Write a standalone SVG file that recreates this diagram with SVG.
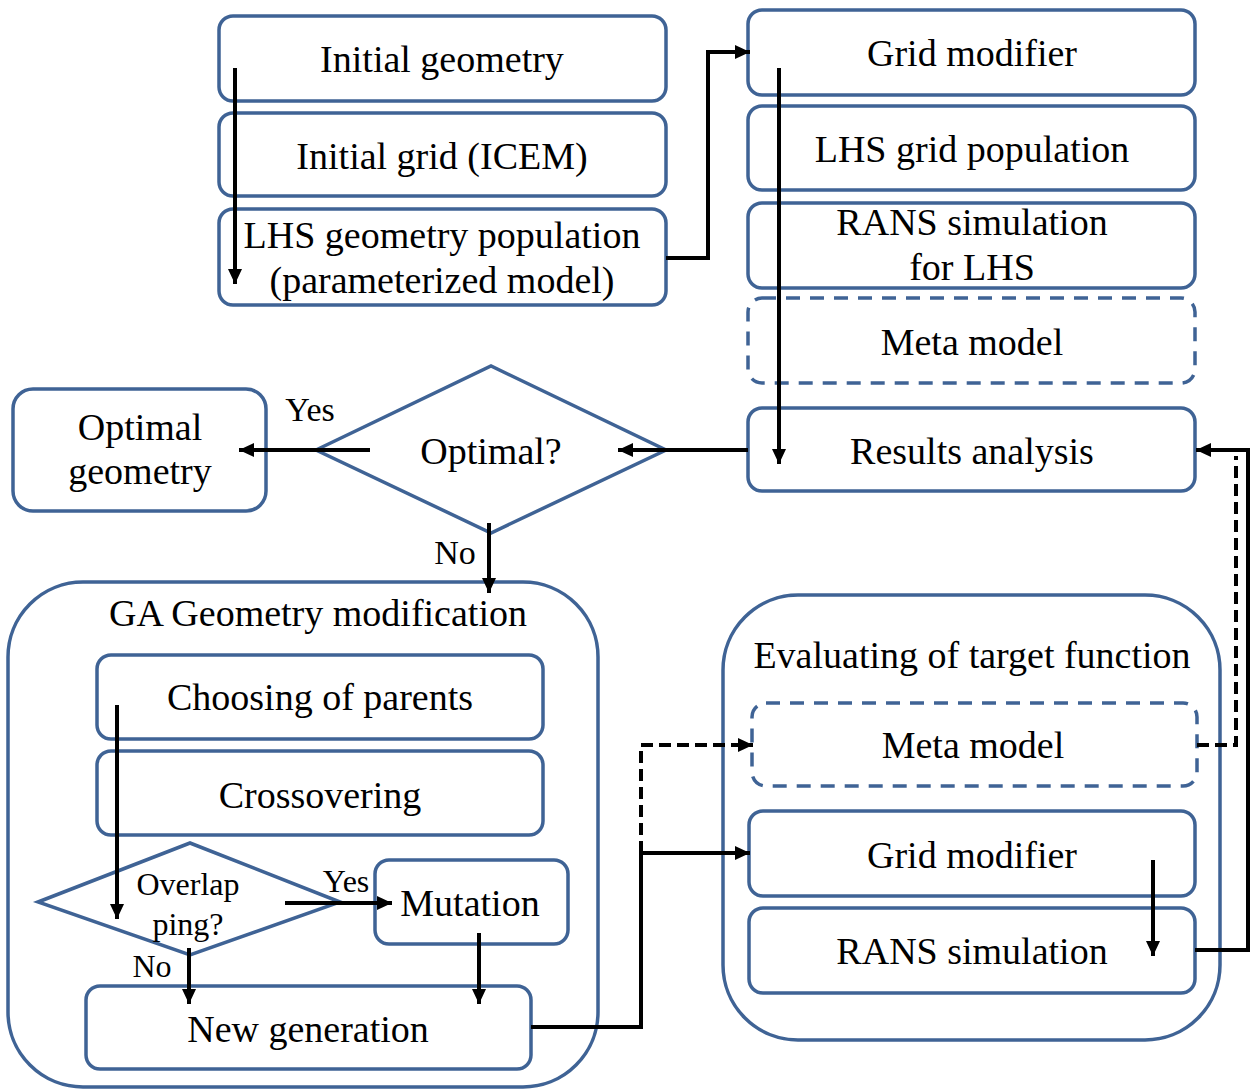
<svg xmlns="http://www.w3.org/2000/svg" width="1252" height="1090" viewBox="0 0 1252 1090">
<defs>
<marker id="ah" markerUnits="userSpaceOnUse" markerWidth="16" markerHeight="14" refX="15" refY="7" orient="auto">
<path d="M0,0 L15,7 L0,14 Z" fill="#000"/>
</marker>
<style>
.box{fill:#fff;stroke:#3f6395;stroke-width:3.5}
.dbox{fill:#fff;stroke:#3f6395;stroke-width:3.5;stroke-dasharray:14 10}
.cont{fill:#fff;stroke:#3f6395;stroke-width:3.5}
text{font-family:'Liberation Serif','Times New Roman','DejaVu Serif',serif;font-size:38px;fill:#000;text-anchor:middle}
.sm{font-size:32px}
.lbl{font-size:34px}
.c{fill:none;stroke:#000;stroke-width:4}
.cd{fill:none;stroke:#000;stroke-width:4;stroke-dasharray:12 6}
</style>
</defs>
<rect width="1252" height="1090" fill="#fff"/>

<g id="ga_container"><rect class="cont" x="8" y="582" width="590" height="505" rx="75"/><text x="318" y="626" font-family="Liberation Serif, serif">GA Geometry modification</text></g>
<g id="eval_container"><rect class="cont" x="723" y="595" width="497" height="445" rx="75"/><text x="972" y="668">Evaluating of target function</text></g>

<g id="initial_geometry"><rect class="box" x="219" y="16" width="447" height="85" rx="14"/><text x="442" y="72">Initial geometry</text></g>
<g id="initial_grid"><rect class="box" x="219" y="113" width="447" height="83" rx="14"/><text x="442" y="169">Initial grid (ICEM)</text></g>
<g id="lhs_geometry"><rect class="box" x="219" y="209" width="447" height="96" rx="14"/><text x="442" y="248">LHS geometry population</text><text x="442" y="293">(parameterized model)</text></g>

<g id="grid_modifier_1"><rect class="box" x="748" y="10" width="447" height="85" rx="14"/><text x="972" y="66">Grid modifier</text></g>
<g id="lhs_grid"><rect class="box" x="748" y="106" width="447" height="84" rx="14"/><text x="972" y="162">LHS grid population</text></g>
<g id="rans_lhs"><rect class="box" x="748" y="203" width="447" height="85" rx="14"/><text x="972" y="235">RANS simulation</text><text x="972" y="280">for LHS</text></g>
<g id="meta_model_1"><rect class="dbox" x="748" y="298" width="447" height="85" rx="14"/><text x="972" y="355">Meta model</text></g>
<g id="results_analysis"><rect class="box" x="748" y="408" width="447" height="83" rx="14"/><text x="972" y="464">Results analysis</text></g>

<g id="optimal_decision"><polygon class="box" points="316,450 491,366 666,450 491,533"/><text x="491" y="464">Optimal?</text></g>
<g id="optimal_geometry"><rect class="box" x="13" y="389" width="253" height="122" rx="20"/><text x="140" y="440">Optimal</text><text x="140" y="484">geometry</text></g>

<g id="choosing_parents"><rect class="box" x="97" y="655" width="446" height="84" rx="14"/><text x="320" y="710">Choosing of parents</text></g>
<g id="crossovering"><rect class="box" x="97" y="751" width="446" height="84" rx="14"/><text x="320" y="808">Crossovering</text></g>
<g id="overlapping_decision"><polygon class="box" points="38,902 190,843 340,902 190,955"/><text class="sm" x="188" y="895">Overlap</text><text class="sm" x="188" y="935">ping?</text></g>
<g id="mutation"><rect class="box" x="375" y="860" width="193" height="84" rx="14"/><text x="470" y="916">Mutation</text></g>
<g id="new_generation"><rect class="box" x="86" y="986" width="445" height="83" rx="14"/><text x="308" y="1042">New generation</text></g>

<g id="meta_model_2"><rect class="dbox" x="752" y="703" width="445" height="83" rx="14"/><text x="973" y="758">Meta model</text></g>
<g id="grid_modifier_2"><rect class="box" x="749" y="811" width="446" height="85" rx="14"/><text x="972" y="868">Grid modifier</text></g>
<g id="rans_simulation"><rect class="box" x="749" y="908" width="446" height="85" rx="14"/><text x="972" y="964">RANS simulation</text></g>

<g id="connectors">
<path class="c" d="M235,68 V284" marker-end="url(#ah)"/>
<path class="c" d="M666,258 H708 V52 H750" marker-end="url(#ah)"/>
<path class="c" d="M779,68 V464" marker-end="url(#ah)"/>
<path class="c" d="M748,450 H618" marker-end="url(#ah)"/>
<path class="c" d="M370,450 H239" marker-end="url(#ah)"/>
<path class="c" d="M489,523 V593" marker-end="url(#ah)"/>
<path class="c" d="M117,705 V919" marker-end="url(#ah)"/>
<path class="c" d="M285,903 H392" marker-end="url(#ah)"/>
<path class="c" d="M479,933 V1004" marker-end="url(#ah)"/>
<path class="c" d="M189,948 V1004" marker-end="url(#ah)"/>
<path class="c" d="M531,1027 H641 V853 H750" marker-end="url(#ah)"/>
<path class="cd" d="M641,853 V745 H753" marker-end="url(#ah)"/>
<path class="c" d="M1153,860 V956" marker-end="url(#ah)"/>
<path class="c" d="M1195,950 H1248 V450 H1196" marker-end="url(#ah)"/>
<path class="cd" d="M1197,745 H1236 V456"/>
<text class="lbl" x="310" y="421">Yes</text>
<text class="lbl" x="455" y="564">No</text>
<text class="sm" x="346" y="892">Yes</text>
<text class="sm" x="152" y="977">No</text>
</g>
</svg>
